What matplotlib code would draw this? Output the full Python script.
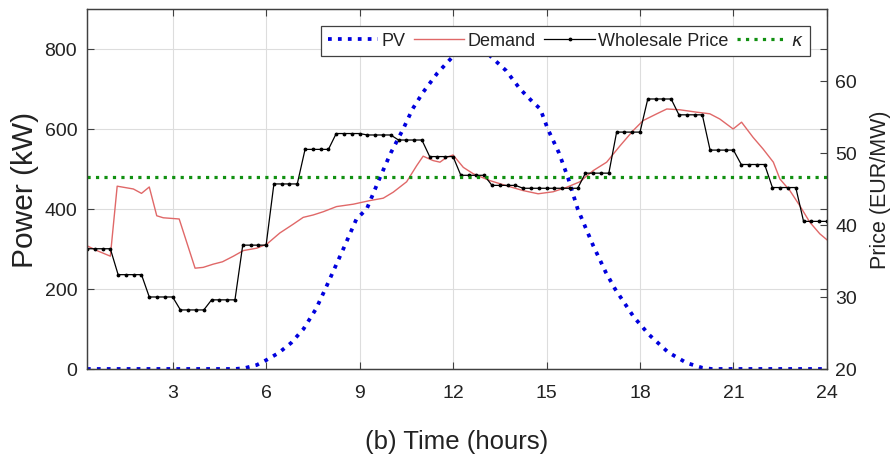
import numpy as np
import matplotlib
matplotlib.use("Agg")
import matplotlib.pyplot as plt

plt.rcParams['font.family'] = ['Liberation Sans', 'DejaVu Sans']

# PV generation (kW)
pv_t = [0.25, 5.0, 5.3, 5.7, 6.0, 6.4, 6.8, 7.2, 7.6, 7.9, 8.5, 8.9, 9.23, 9.65,
        10.0, 10.4, 10.7, 11.04, 11.5, 12.1, 12.5, 12.8, 13.2, 13.7, 14.15,
        14.55, 14.8, 15.04, 15.4, 15.69, 16.0, 16.5, 16.9, 17.2, 17.5, 17.8,
        18.3, 18.9, 19.5, 20.0, 20.3, 24.0]
pv_kw = [0, 0, 2, 10, 22, 40, 65, 100, 150, 200, 304, 375, 400, 478,
         540, 600, 650, 692, 740, 790, 822, 830, 782, 746, 700,
         668, 650, 600, 540, 478, 400, 308, 242, 200, 165, 130,
         85, 42, 15, 3, 0, 0]

# customer demand (kW)
demand_t = [0.25, 0.6, 1.0, 1.22, 1.74, 2.0, 2.25, 2.49, 2.7, 3.21, 3.72, 3.98,
            4.3, 4.6, 4.95, 5.27, 5.7, 6.02, 6.44, 6.87, 7.19, 7.51, 7.83, 8.26,
            8.8, 9.33, 9.76, 10.08, 10.51, 10.83, 11.04, 11.36, 11.58, 11.79,
            12.0, 12.33, 12.65, 13.18, 13.72, 14.25, 14.73, 15.21, 15.64, 16.07,
            16.5, 16.93, 17.36, 17.78, 18.1, 18.54, 18.86, 19.28, 19.82, 20.24,
            20.56, 20.99, 21.26, 21.63, 21.95, 22.28, 22.49, 22.81, 23.13, 23.45,
            23.77, 24.0]
demand_kw = [308, 295, 282, 457, 450, 439, 455, 383, 378, 375, 252, 254,
             262, 268, 282, 296, 302, 312, 340, 362, 379, 385, 393, 406,
             412, 421, 427, 442, 468, 508, 532, 521, 517, 529,
             535, 504, 488, 471, 458, 446, 438, 443, 454, 468,
             496, 517, 558, 596, 621, 638, 650, 648, 642, 638,
             625, 600, 617, 579, 550, 517, 475, 446, 408, 367,
             338, 323]

# hourly wholesale price (EUR/MW), sampled every 15 min
price_hourly = [36.7, 33.1, 30.0, 28.2, 29.6, 37.2, 45.7, 50.5, 52.7, 52.5, 51.8, 49.5,
                46.9, 45.5, 45.1, 45.1, 47.2, 52.9, 57.5, 55.3, 50.4, 48.4, 45.2, 40.5]
kappa = 46.7

price_t = np.arange(1, 97) * 0.25
price = np.repeat(price_hourly, 4)

fig = plt.figure(figsize=(8.91, 4.6), dpi=100)
ax = fig.add_axes([0.0976, 0.1957, 0.8305, 0.7826])
ax2 = ax.twinx()

frame = '#404040'

l_pv, = ax.plot(pv_t, pv_kw, color='#0000dd', linestyle=':', linewidth=2.7, label='PV')
l_dem, = ax.plot(demand_t, demand_kw, color='#e06868', linewidth=1.0, label='Demand')
l_pr, = ax2.plot(price_t, price, color='black', linewidth=0.9, marker='.', markersize=3.5,
                 label='Wholesale Price')
l_k = ax2.axhline(kappa, color='#119011', linestyle=':', linewidth=2.3, label=r'$\kappa$')

ax.set_xlim(0.25, 24)
ax.set_ylim(0, 900)
ax2.set_ylim(20, 70)
ax.set_xticks([3, 6, 9, 12, 15, 18, 21, 24])
ax.set_yticks([0, 200, 400, 600, 800])
ax2.set_yticks([20, 30, 40, 50, 60])

ax.grid(True, color='#dddddd', linewidth=0.8)
ax.set_axisbelow(True)

ax.tick_params(direction='in', length=5, width=0.8, colors=frame, labelcolor='#222222',
               labelsize=14, top=True, right=True, pad=7)
ax.tick_params(axis='x', pad=11)
ax2.tick_params(direction='in', length=5, width=0.8, colors=frame, labelcolor='#222222',
                labelsize=14, pad=6)
for a in (ax, ax2):
    for s in a.spines.values():
        s.set_color(frame)
        s.set_linewidth(0.9)

ax.set_ylabel('Power (kW)', fontsize=21.5, color='#222222', labelpad=4)
ax2.set_ylabel('Price (EUR/MW)', fontsize=15.5, color='#222222', labelpad=9)
ax.set_xlabel('(b) Time (hours)', fontsize=18.5, color='#222222', labelpad=20)

leg = ax2.legend(handles=[l_pv, l_dem, l_pr, l_k], ncol=4, loc='upper right',
                 bbox_to_anchor=(0.977, 0.953), borderaxespad=0, fontsize=13,
                 handlelength=2.8, handletextpad=0.2, columnspacing=0.45,
                 borderpad=0.35, numpoints=1, fancybox=False, framealpha=1)
leg.get_frame().set_edgecolor(frame)
leg.get_frame().set_linewidth(0.9)
for t in leg.get_texts():
    t.set_color('#222222')

fig.savefig('out.png', dpi=100)
